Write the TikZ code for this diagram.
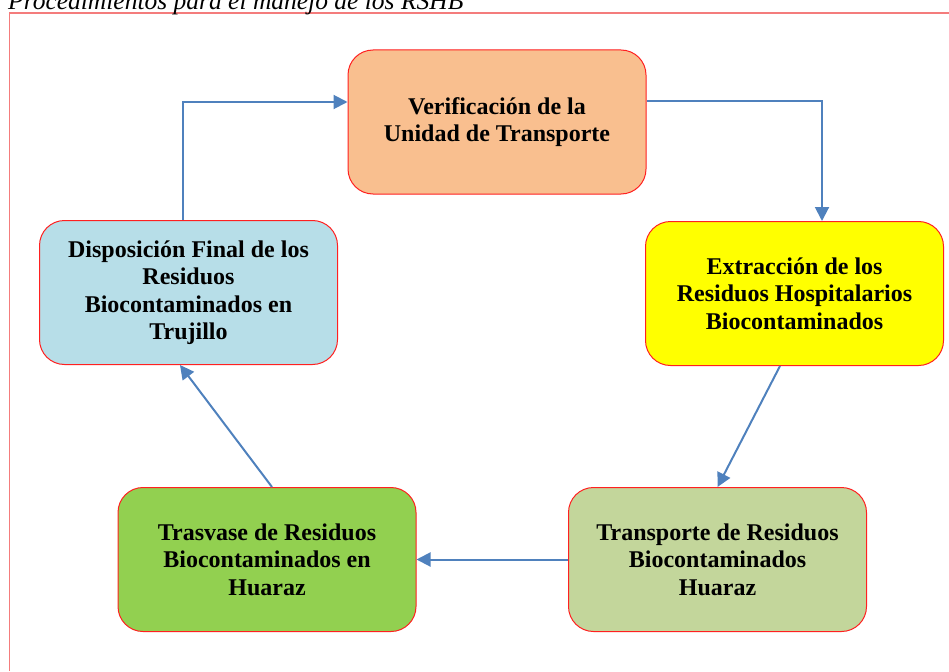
\documentclass[tikz,border=0pt]{standalone}
\usepackage{fontspec}
\setmainfont{Liberation Serif}
\usetikzlibrary{arrows.meta}
\definecolor{cOrange}{HTML}{F9BF8F}
\definecolor{cYellow}{HTML}{FFFF00}
\definecolor{cBlue}{HTML}{B7DEE8}
\definecolor{cGreen}{HTML}{92D050}
\definecolor{cOlive}{HTML}{C3D69B}
\definecolor{cArrow}{HTML}{4F81BD}
\definecolor{cFrame}{HTML}{F47C7C}
\definecolor{cBorder}{HTML}{FF2020}
\begin{document}
\begin{tikzpicture}[x=1pt,y=-1pt,
  procbox/.style={draw=cBorder, line width=1pt, rounded corners=25pt,
    minimum width=298pt, minimum height=144pt, align=center, inner sep=0pt,
    font=\fontsize{24}{27.5}\selectfont\bfseries},
  flow/.style={draw=cArrow, line width=2pt, -{Triangle[length=14pt,width=14pt]}}]
\useasboundingbox (0,0) rectangle (949,671);
\draw[cFrame, line width=1.5pt] (9.5,671) -- (9.5,13) -- (949,13);
\node[anchor=base west, inner sep=0pt, font=\fontsize{25.5}{30}\selectfont\itshape] (title) at (8,9.3) {Procedimientos para el manejo de los RSHB};
\node[procbox, fill=cOrange] (ver) at (497,122) {Verificación de la\\Unidad de Transporte};
\node[procbox, fill=cYellow] (ext) at (794.5,293.5) {Extracción de los\\Residuos Hospitalarios\\Biocontaminados};
\node[procbox, fill=cBlue] (disp) at (188.5,292.5) {Disposición Final de los\\Residuos\\Biocontaminados en\\Trujillo};
\node[procbox, fill=cGreen] (trasv) at (267,559.5) {Trasvase de Residuos\\Biocontaminados en\\Huaraz};
\node[procbox, fill=cOlive] (transp) at (717.5,559.5) {Transporte de Residuos\\Biocontaminados\\Huaraz};
\draw[flow] ([xshift=-5.5pt]disp.north) |- ([yshift=20pt]ver.west);
\draw[flow] ([yshift=21pt]ver.east) -| ([xshift=27.5pt]ext.north);
\draw[flow] ([xshift=-14.5pt]ext.south) -- (transp.north);
\draw[flow] (transp.west) -- (trasv.east);
\draw[flow] ([xshift=5pt]trasv.north) -- ([xshift=-8.5pt]disp.south);
\end{tikzpicture}
\end{document}
